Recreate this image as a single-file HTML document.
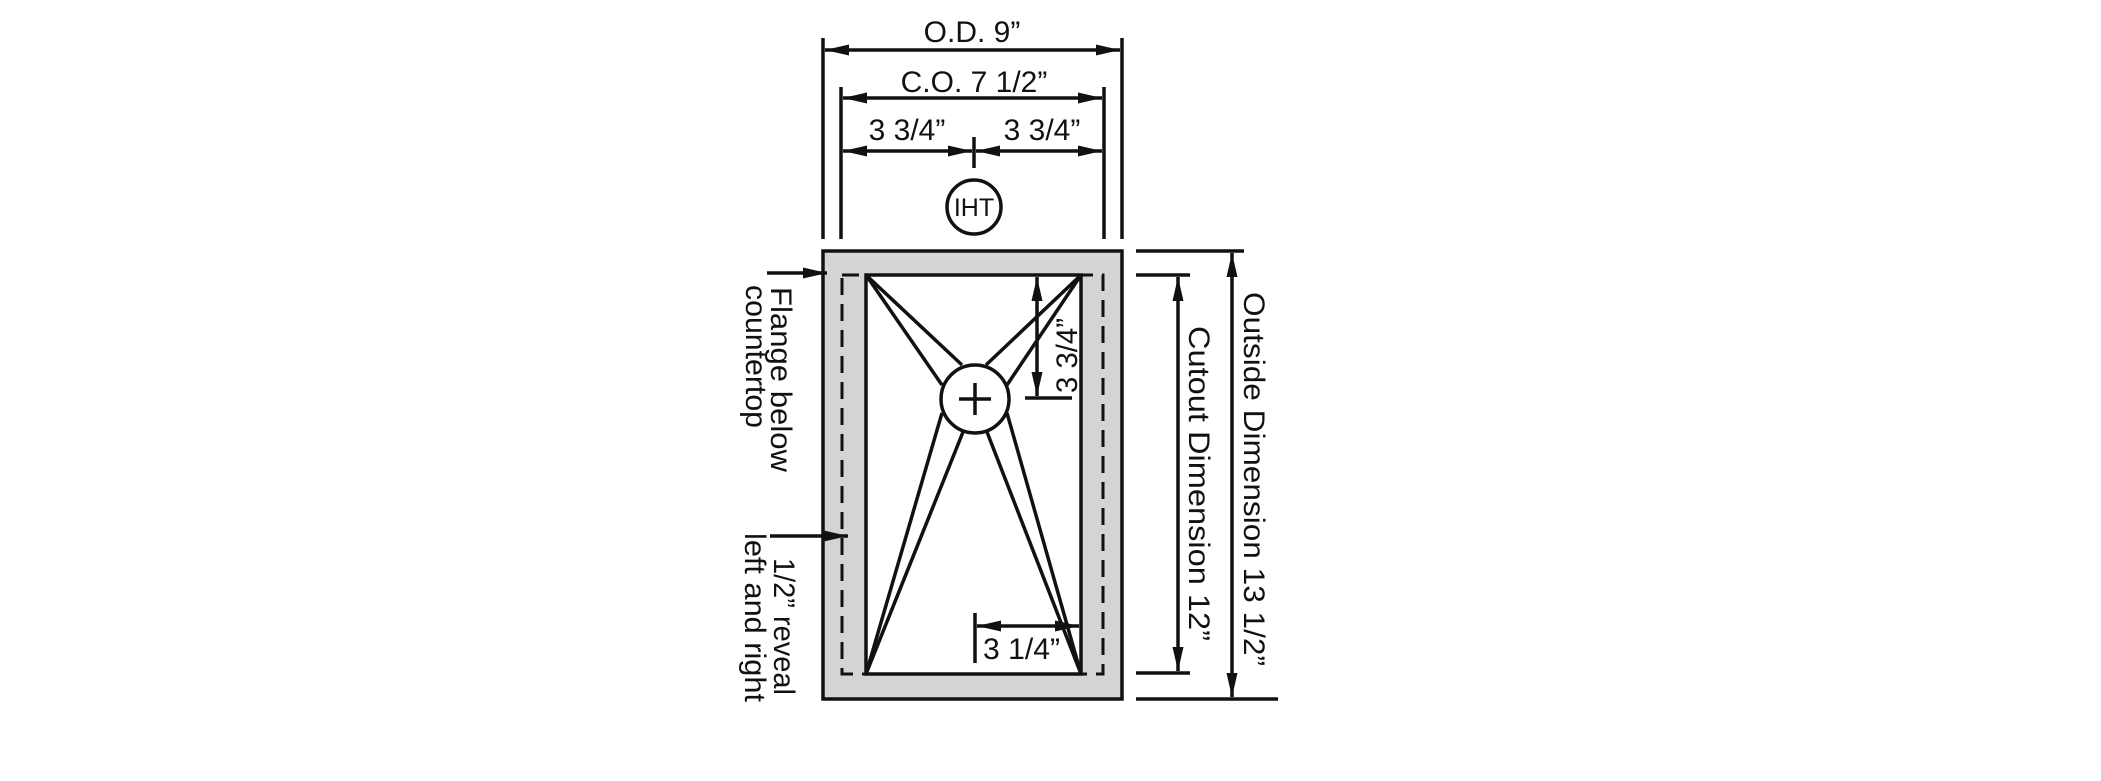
<!DOCTYPE html>
<html><head><meta charset="utf-8"><style>
html,body{margin:0;padding:0;background:#fff;}
svg{display:block;}
text{font-family:"Liberation Sans",Arial,sans-serif;fill:#111;}
</style></head><body>
<svg width="2101" height="781" viewBox="0 0 2101 781" xmlns="http://www.w3.org/2000/svg">
<defs>
<marker id="a" viewBox="0 0 24 11" refX="24" refY="5.5" markerWidth="24" markerHeight="11" markerUnits="userSpaceOnUse" orient="auto-start-reverse">
<path d="M0,0 L24,5.5 L0,11 Z" fill="#111"/>
</marker>
</defs>
<g stroke="#111" stroke-width="3.5" fill="none">
<line x1="823" y1="38" x2="823" y2="239"/>
<line x1="1122" y1="38" x2="1122" y2="239"/>
<line x1="841" y1="87" x2="841" y2="239"/>
<line x1="1104" y1="87" x2="1104" y2="239"/>
<line x1="825" y1="50" x2="1120" y2="50" marker-start="url(#a)" marker-end="url(#a)"/>
<line x1="843" y1="98" x2="1102" y2="98" marker-start="url(#a)" marker-end="url(#a)"/>
<line x1="843" y1="151" x2="972" y2="151" marker-start="url(#a)" marker-end="url(#a)"/>
<line x1="976" y1="151" x2="1102" y2="151" marker-start="url(#a)" marker-end="url(#a)"/>
<line x1="974" y1="137" x2="974" y2="168"/>
<circle cx="974" cy="207" r="27"/>
<rect x="823" y="251" width="299" height="448" fill="#d3d4d6"/>
<rect x="842" y="275" width="261" height="399" stroke-dasharray="17,9" stroke-width="3"/>
<rect x="866" y="275" width="215" height="399" fill="#fff"/>
<line x1="866" y1="275" x2="962" y2="365"/>
<line x1="866" y1="275" x2="942" y2="385"/>
<line x1="1081" y1="275" x2="986" y2="365"/>
<line x1="1081" y1="275" x2="1007" y2="385"/>
<line x1="866" y1="674" x2="942" y2="413"/>
<line x1="866" y1="674" x2="963" y2="432"/>
<line x1="1081" y1="674" x2="1007" y2="413"/>
<line x1="1081" y1="674" x2="987" y2="432"/>
<circle cx="975" cy="399" r="34" fill="#fff"/>
<line x1="959" y1="399" x2="991" y2="399"/>
<line x1="975" y1="383" x2="975" y2="415"/>
<line x1="1037" y1="277" x2="1037" y2="396" marker-start="url(#a)" marker-end="url(#a)"/>
<line x1="1025" y1="398" x2="1072" y2="398"/>
<line x1="975" y1="613" x2="975" y2="663"/>
<line x1="977" y1="626" x2="1079" y2="626" marker-start="url(#a)" marker-end="url(#a)"/>
<line x1="767" y1="273" x2="827" y2="273" marker-end="url(#a)"/>
<line x1="770" y1="536" x2="848" y2="536" marker-end="url(#a)"/>
<line x1="1136" y1="251" x2="1244" y2="251"/>
<line x1="1136" y1="699" x2="1278" y2="699"/>
<line x1="1136" y1="275" x2="1190" y2="275"/>
<line x1="1136" y1="673" x2="1190" y2="673"/>
<line x1="1232" y1="253" x2="1232" y2="697" marker-start="url(#a)" marker-end="url(#a)"/>
<line x1="1178" y1="277" x2="1178" y2="671" marker-start="url(#a)" marker-end="url(#a)"/>
</g>
<g font-size="30">
<text x="972" y="42" text-anchor="middle">O.D. 9”</text>
<text x="974" y="92" text-anchor="middle">C.O. 7 1/2”</text>
<text x="907" y="140" text-anchor="middle">3 3/4”</text>
<text x="1042" y="140" text-anchor="middle">3 3/4”</text>
<text x="974" y="216" text-anchor="middle" font-size="25">IHT</text>
<text x="983" y="659" textLength="77" lengthAdjust="spacingAndGlyphs">3 1/4”</text>
<text transform="translate(1077,393) rotate(-90)" textLength="75" lengthAdjust="spacingAndGlyphs">3 3/4”</text>
<text transform="translate(771,287) rotate(90)" textLength="185" lengthAdjust="spacingAndGlyphs">Flange below</text>
<text transform="translate(746,285) rotate(90)" textLength="143" lengthAdjust="spacingAndGlyphs">countertop</text>
<text transform="translate(774,558) rotate(90)" textLength="137" lengthAdjust="spacingAndGlyphs">1/2” reveal</text>
<text transform="translate(745,533) rotate(90)" textLength="169" lengthAdjust="spacingAndGlyphs">left and right</text>
<text transform="translate(1189,326) rotate(90)" textLength="315" lengthAdjust="spacingAndGlyphs">Cutout Dimension 12”</text>
<text transform="translate(1244,292) rotate(90)" textLength="374" lengthAdjust="spacingAndGlyphs">Outside Dimension 13 1/2”</text>
</g>
</svg>
</body></html>
